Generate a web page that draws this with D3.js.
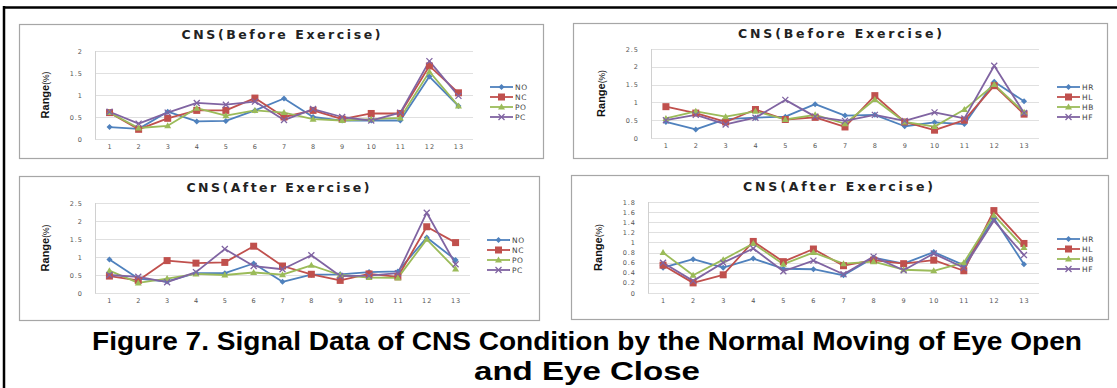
<!DOCTYPE html>
<html>
<head>
<meta charset="utf-8">
<script src="https://cdn.jsdelivr.net/npm/d3@7"></script>
<style>
  body { margin: 0; background: #fff; }
  svg { display: block; }
</style>
</head>
<body>
<div id="chart"></div>
<script>
// ---- Data ----
const trials = [1, 2, 3, 4, 5, 6, 7, 8, 9, 10, 11, 12, 13];

const beforeNO = [0.27, 0.23, 0.62, 0.40, 0.41, 0.65, 0.92, 0.50, 0.42, 0.42, 0.42, 1.42, 0.75];
const beforeNC = [0.60, 0.22, 0.47, 0.65, 0.65, 0.93, 0.50, 0.65, 0.45, 0.58, 0.58, 1.66, 1.05];
const beforePO = [0.60, 0.25, 0.30, 0.70, 0.53, 0.65, 0.60, 0.45, 0.42, 0.45, 0.48, 1.53, 0.75];
const beforePC = [0.62, 0.35, 0.60, 0.82, 0.78, 0.85, 0.43, 0.68, 0.50, 0.42, 0.60, 1.77, 0.98];

const beforeHR = [0.45, 0.24, 0.53, 0.57, 0.60, 0.95, 0.63, 0.65, 0.33, 0.44, 0.39, 1.58, 1.03];
const beforeHL = [0.88, 0.70, 0.45, 0.80, 0.52, 0.58, 0.31, 1.19, 0.45, 0.22, 0.50, 1.47, 0.67];
const beforeHB = [0.55, 0.75, 0.60, 0.75, 0.52, 0.65, 0.40, 1.08, 0.45, 0.32, 0.80, 1.50, 0.72];
const beforeHF = [0.50, 0.65, 0.38, 0.57, 1.07, 0.60, 0.48, 0.65, 0.48, 0.72, 0.55, 2.03, 0.70];

const afterNO = [0.93, 0.40, 0.32, 0.55, 0.55, 0.82, 0.31, 0.51, 0.52, 0.58, 0.60, 1.54, 0.92];
const afterNC = [0.47, 0.35, 0.90, 0.83, 0.85, 1.30, 0.75, 0.52, 0.35, 0.53, 0.45, 1.84, 1.40];
const afterPO = [0.62, 0.28, 0.40, 0.53, 0.50, 0.57, 0.51, 0.77, 0.50, 0.43, 0.42, 1.49, 0.67];
const afterPC = [0.50, 0.45, 0.30, 0.58, 1.22, 0.75, 0.66, 1.05, 0.47, 0.48, 0.55, 2.23, 0.80];

const afterHR = [0.50, 0.67, 0.50, 0.68, 0.48, 0.47, 0.35, 0.70, 0.58, 0.81, 0.55, 1.48, 0.57];
const afterHL = [0.55, 0.20, 0.36, 1.02, 0.62, 0.87, 0.54, 0.65, 0.58, 0.65, 0.44, 1.63, 0.98];
const afterHB = [0.80, 0.35, 0.66, 0.98, 0.57, 0.80, 0.58, 0.62, 0.46, 0.44, 0.60, 1.54, 0.90];
const afterHF = [0.60, 0.24, 0.60, 0.88, 0.43, 0.64, 0.37, 0.72, 0.45, 0.78, 0.50, 1.43, 0.75];

const ticks25 = [0, 0.5, 1, 1.5, 2, 2.5];
const ticks20 = [0, 0.5, 1, 1.5, 2];
const ticks18 = [0, 0.2, 0.4, 0.6, 0.8, 1, 1.2, 1.4, 1.6, 1.8];

const titleBefore = "CNS(Before Exercise)";
const titleAfter = "CNS(After Exercise)";
const captionLines = [
  "Figure 7. Signal Data of CNS Condition by the Normal Moving of Eye Open",
  "and Eye Close"
];

// ---- Styles ----
const seriesColors = ["#4f81bd", "#c0504d", "#9bbb59", "#8064a2"];
const markerTypes = ["diamond", "square", "triangle", "cross"];

const panels = [
  { frame: [19, 24, 543, 158], plot: [95, 473, 51, 139], ticks: ticks20,
    title: titleBefore, titleX: 281, titleY: 39, titleW: 199,
    legendX: 490, legendY: 87, names: ["NO", "NC", "PO", "PC"],
    series: [beforeNO, beforeNC, beforePO, beforePC] },
  { frame: [573, 23, 1107, 158], plot: [651, 1039, 49, 138], ticks: ticks25,
    title: titleBefore, titleX: 840, titleY: 38, titleW: 204,
    legendX: 1057, legendY: 87, names: ["HR", "HL", "HB", "HF"],
    series: [beforeHR, beforeHL, beforeHB, beforeHF] },
  { frame: [19, 176, 539, 320], plot: [95, 470, 203, 293], ticks: ticks25,
    title: titleAfter, titleX: 278, titleY: 192, titleW: 183,
    legendX: 487, legendY: 240, names: ["NO", "NC", "PO", "PC"],
    series: [afterNO, afterNC, afterPO, afterPC] },
  { frame: [571, 175, 1108, 319], plot: [648, 1039, 202, 293], ticks: ticks18,
    title: titleAfter, titleX: 838, titleY: 191, titleW: 190,
    legendX: 1057, legendY: 239, names: ["HR", "HL", "HB", "HF"],
    series: [afterHR, afterHL, afterHB, afterHF] }
];

const width = 1117, height = 388;
const svg = d3.select("#chart").append("svg")
  .attr("width", width).attr("height", height);

// outer black frame (left + top)
svg.append("line").attr("x1", 4).attr("x2", 4).attr("y1", 6).attr("y2", height)
  .attr("stroke", "#000").attr("stroke-width", 2.5);
svg.append("line").attr("x1", 3).attr("x2", width).attr("y1", 7.5).attr("y2", 7.5)
  .attr("stroke", "#000").attr("stroke-width", 2.5);

function drawMarker(g, type, color, x, y) {
  if (type === "diamond") {
    g.append("path")
      .attr("d", `M${x},${y - 3}L${x + 3},${y}L${x},${y + 3}L${x - 3},${y}Z`)
      .attr("fill", color);
  } else if (type === "square") {
    g.append("rect").attr("x", x - 3.5).attr("y", y - 3.5)
      .attr("width", 7).attr("height", 7).attr("fill", color);
  } else if (type === "triangle") {
    g.append("path")
      .attr("d", `M${x},${y - 3.5}L${x + 3.5},${y + 2.5}L${x - 3.5},${y + 2.5}Z`)
      .attr("fill", color);
  } else {
    g.append("path")
      .attr("d", `M${x - 3},${y - 3}L${x + 3},${y + 3}M${x - 3},${y + 3}L${x + 3},${y - 3}`)
      .attr("stroke", color).attr("stroke-width", 1.3).attr("fill", "none");
  }
}

panels.forEach(p => {
  const [fx0, fy0, fx1, fy1] = p.frame;
  const [px0, px1, py0, py1] = p.plot;
  const g = svg.append("g");

  g.append("rect")
    .attr("x", fx0 + 0.5).attr("y", fy0 + 0.5)
    .attr("width", fx1 - fx0).attr("height", fy1 - fy0)
    .attr("fill", "#fff").attr("stroke", "#a6a6a6").attr("stroke-width", 1.2);

  const x = d3.scalePoint().domain(trials).range([px0, px1]).padding(0.5);
  const y = d3.scaleLinear().domain([0, d3.max(p.ticks)]).range([py1, py0]);

  // gridlines
  g.append("g")
    .selectAll("line").data(p.ticks).enter().append("line")
    .attr("x1", px0).attr("x2", px1)
    .attr("y1", d => Math.round(y(d)) + 0.5).attr("y2", d => Math.round(y(d)) + 0.5)
    .attr("stroke", "#e0e0e0").attr("stroke-width", 1);
  g.append("line")
    .attr("x1", px0 + 0.5).attr("x2", px0 + 0.5).attr("y1", py0).attr("y2", py1 + 0.5)
    .attr("stroke", "#d0d0d0");

  // axes (labels only)
  const yAxis = g.append("g")
    .attr("transform", `translate(${px0},0)`)
    .call(d3.axisLeft(y).tickValues(p.ticks).tickSize(0).tickPadding(12)
      .tickFormat(d3.format("~g")));
  yAxis.select(".domain").remove();
  yAxis.selectAll("text")
    .attr("font-family", "DejaVu Sans").attr("font-size", 6.5)
    .attr("letter-spacing", 1).attr("fill", "#555");

  const xAxis = g.append("g")
    .attr("transform", `translate(0,${py1})`)
    .call(d3.axisBottom(x).tickSize(0).tickPadding(5));
  xAxis.select(".domain").remove();
  xAxis.selectAll("text")
    .attr("font-family", "DejaVu Sans").attr("font-size", 6.5)
    .attr("letter-spacing", 1).attr("fill", "#555");

  // title
  g.append("text")
    .attr("x", p.titleX).attr("y", p.titleY)
    .attr("text-anchor", "middle")
    .attr("font-family", "DejaVu Sans").attr("font-weight", "bold")
    .attr("font-size", 12.5).attr("fill", "#222")
    .attr("textLength", p.titleW).attr("lengthAdjust", "spacing")
    .text(p.title);

  // y label
  const yl = g.append("text")
    .attr("transform", `translate(${px0 - 46},${(py0 + py1) / 2}) rotate(-90)`)
    .attr("text-anchor", "middle")
    .attr("font-family", "Liberation Sans Narrow, Liberation Sans")
    .attr("font-size", 11).attr("fill", "#111");
  yl.append("tspan").attr("font-weight", "bold").text("Range");
  yl.append("tspan").attr("font-size", 8.5).text("(%)");

  // series
  const line = d3.line().x((d, i) => x(trials[i])).y(d => y(d));
  p.series.forEach((vals, k) => {
    g.append("path")
      .attr("d", line(vals))
      .attr("fill", "none").attr("stroke", seriesColors[k])
      .attr("stroke-width", 1.8).attr("stroke-linejoin", "round");
  });
  p.series.forEach((vals, k) => {
    vals.forEach((v, i) => drawMarker(g, markerTypes[k], seriesColors[k], x(trials[i]), y(v)));
  });

  // legend
  p.names.forEach((name, k) => {
    const ly = p.legendY + k * 10;
    g.append("line")
      .attr("x1", p.legendX).attr("x2", p.legendX + 23)
      .attr("y1", ly).attr("y2", ly)
      .attr("stroke", seriesColors[k]).attr("stroke-width", 1.8);
    drawMarker(g, markerTypes[k], seriesColors[k], p.legendX + 11.5, ly);
    g.append("text")
      .attr("x", p.legendX + 25).attr("y", ly + 3)
      .attr("font-family", "DejaVu Sans").attr("font-size", 7.5)
      .attr("letter-spacing", 0.6).attr("fill", "#444")
      .text(name);
  });
});

// caption
const capY = [350, 380];
const capW = [990, 226];
captionLines.forEach((t, i) => {
  svg.append("text")
    .attr("x", 587).attr("y", capY[i])
    .attr("text-anchor", "middle")
    .attr("font-family", "Liberation Sans Narrow, Liberation Sans")
    .attr("font-weight", "bold").attr("font-size", 26).attr("fill", "#000")
    .attr("textLength", capW[i]).attr("lengthAdjust", "spacingAndGlyphs")
    .text(t);
});
</script>
</body>
</html>
